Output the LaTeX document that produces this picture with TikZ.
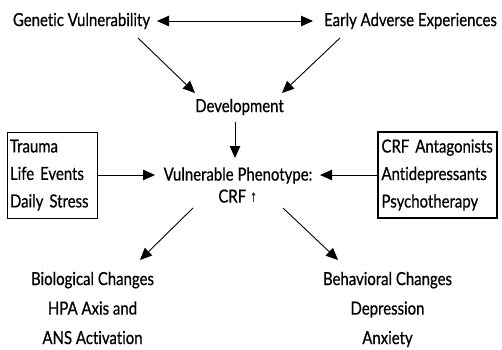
\documentclass[tikz,border=0pt]{standalone}
\usepackage{fontspec}
\setmainfont{Lato}[FakeStretch=0.83, FakeBold=0.6, Ligatures=NoCommon]
\newfontfamily\symfont{DejaVu Sans}[FakeStretch=0.7]
\usetikzlibrary{arrows.meta}
\begin{document}
\begin{tikzpicture}[x=1pt,y=-1pt,
  lbl/.style={font=\fontsize{18}{22}\selectfont, inner sep=0pt, align=center},
  low/.style={font=\fontsize{18}{29.5}\selectfont, inner sep=0pt, align=center},
  boxl/.style={draw, line width=1pt, inner sep=0pt, font=\fontsize{18}{27.5}\selectfont, align=left},
  arr/.style={-{Triangle[length=12pt,width=10.5pt]}, line width=0.9pt},
  darr/.style={{Triangle[length=12pt,width=10.5pt]}-{Triangle[length=12pt,width=10.5pt]}, line width=0.9pt}]
\useasboundingbox (0,0) rectangle (502,349);
\node[lbl] (gen) at (81.5,21) {Genetic Vulnerability};
\node[lbl] (early) at (410.5,21) {Early Adverse Experiences};
\node[lbl] (dev) at (239.5,107) {Development};
\node[lbl] (phen) at (238,185) {Vulnerable Phenotype:\\CRF {\symfont\fontsize{13}{13}\selectfont↑}};
\node[boxl, minimum width=90pt, minimum height=86pt, text width=84pt] (left) at (52,175) {Trauma\\Life Events\\Daily Stress};
\node[boxl, line width=1.5pt, minimum width=119pt, minimum height=86pt, text width=112pt] (right) at (437.5,175) {CRF Antagonists\\Antidepressants\\Psychotherapy};
\node[low] (bio) at (92.5,308) {Biological Changes\\HPA Axis and\\ANS Activation};
\node[low] (beh) at (387.5,309.5) {Behavioral Changes\\Depression\\Anxiety};
\coordinate (ga) at (157,21);
\coordinate (eb) at (313,21);
\coordinate (gl) at (138,38);
\coordinate (er) at (340,38);
\coordinate (dt) at (195,93);
\coordinate (drt) at (282,93);
\coordinate (pb) at (235,122);
\coordinate (pt) at (235,158);
\coordinate (lt) at (155,175);
\coordinate (rt) at (320,175);
\coordinate (bl) at (193,208);
\coordinate (br) at (283,208);
\coordinate (blt) at (140,260);
\coordinate (brt) at (338,260);
\draw[darr] (ga) -- (eb);
\draw[arr] (gl) -- (dt);
\draw[arr] (er) -- (drt);
\draw[arr] (pb) -- (pt);
\draw[arr] (left.east) -- (lt);
\draw[arr] (right.west) -- (rt);
\draw[arr] (bl) -- (blt);
\draw[arr] (br) -- (brt);
\end{tikzpicture}
\end{document}
